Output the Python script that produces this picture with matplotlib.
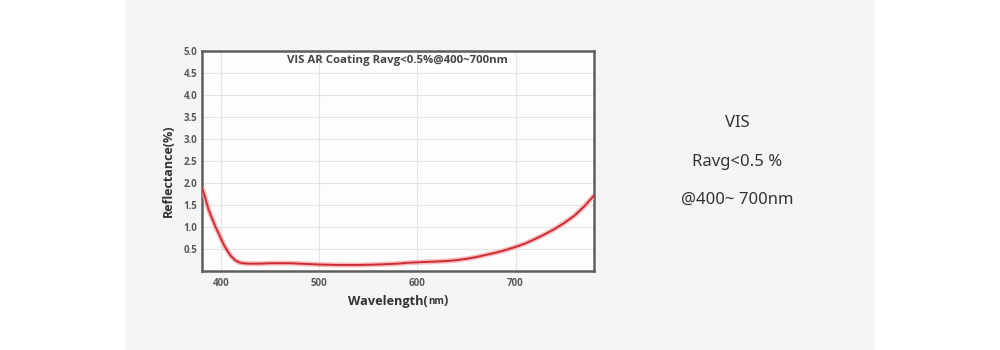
import matplotlib
matplotlib.use("Agg")
import matplotlib.pyplot as plt
from matplotlib.patches import Rectangle
from matplotlib.offsetbox import TextArea, HPacker, AnnotationBbox

wavelength = [380, 383, 387, 390, 394, 397, 400, 403, 407, 410, 414, 418, 422, 427, 432,
              440, 450, 460, 470, 480, 490, 500, 510, 520, 530, 540, 550, 560, 570, 580, 590,
              600, 610, 620, 630, 640, 650, 660, 670, 680, 690, 700, 710, 720, 730, 740,
              750, 760, 770, 780]
reflectance = [1.9, 1.7, 1.39, 1.22, 1.0, 0.86, 0.71, 0.57, 0.42, 0.33, 0.24, 0.19, 0.17, 0.16, 0.16,
               0.16, 0.17, 0.17, 0.17, 0.16, 0.15, 0.14, 0.135, 0.13, 0.13, 0.13, 0.135, 0.14, 0.15, 0.16, 0.18,
               0.19, 0.2, 0.21, 0.22, 0.24, 0.27, 0.31, 0.36, 0.41, 0.47, 0.54, 0.62, 0.72, 0.83, 0.95,
               1.09, 1.25, 1.46, 1.71]
x_ticks = [400, 500, 600, 700]
y_ticks = [0.5, 1.0, 1.5, 2.0, 2.5, 3.0, 3.5, 4.0, 4.5, 5.0]
chart_title = "VIS AR Coating Ravg<0.5%@400~700nm"
x_label_main = "Wavelength("
x_label_unit = "nm"
y_label = "Reflectance(%)"
side_lines = ["VIS", "Ravg<0.5 %", "@400~ 700nm"]

W, H = 1000, 350
fig = plt.figure(figsize=(10, 3.5), dpi=100)
fig.patch.set_facecolor("white")
fig.patches.append(Rectangle((0.125, 0), 0.75, 1, transform=fig.transFigure,
                             facecolor="#f5f5f7", edgecolor="none", zorder=-10))

ax = fig.add_axes([0.2017, 0.2266, 0.3923, 0.6286])
ax.set_zorder(1)
ax.set_facecolor("#fdfdfd")
ax.plot(wavelength, reflectance, color="#f2a3a6", linewidth=3.6, alpha=0.7, zorder=3,
        solid_capstyle="butt")
ax.plot(wavelength, reflectance, color="#cf2c33", linewidth=1.4, zorder=4,
        solid_capstyle="butt")
ax.set_xlim(380, 780)
ax.set_ylim(0, 5)
ax.set_xticks(x_ticks)
ax.set_yticks(y_ticks)
ax.set_xticklabels([str(t) for t in x_ticks])
ax.set_yticklabels([f"{t:.1f}" for t in y_ticks])
ax.grid(True, color="#e4e4e4", linewidth=0.8)
ax.set_axisbelow(True)
for s in ax.spines.values():
    s.set_color("#5f5f5f")
    s.set_linewidth(1.8)
ax.tick_params(axis="both", length=0, labelsize=7, labelcolor="#5a5a5a")
ax.tick_params(axis="x", pad=5)
ax.tick_params(axis="y", pad=3)
for lab in ax.get_xticklabels() + ax.get_yticklabels():
    lab.set_fontweight("bold")
    lab.set_family("Open Sans")
ax.text(0.5, 1 - (60.7 - 50.7) / 220, chart_title, transform=ax.transAxes, ha="center",
        va="center", fontsize=8.2, color="#444444", fontweight="bold", family="Open Sans")

fig.text(168 / W, 1 - 171 / H, y_label, rotation=90, ha="center", va="center",
         fontsize=9, fontweight="bold", color="#333333", family="Open Sans")

parts = HPacker(children=[
    TextArea(x_label_main, textprops=dict(fontsize=9.2, fontweight="bold", color="#333333", family="Open Sans")),
    TextArea(x_label_unit, textprops=dict(fontsize=7, fontweight="bold", color="#333333", family="Open Sans")),
    TextArea(")", textprops=dict(fontsize=9.2, fontweight="bold", color="#333333", family="Open Sans")),
], align="baseline", pad=0, sep=0)
ab = AnnotationBbox(parts, (398 / W, 1 - 301 / H), xycoords="figure fraction",
                    frameon=False, box_alignment=(0.5, 0.5), pad=0)
fig.add_artist(ab)

ys = [123, 162, 200]
for txt, y in zip(side_lines, ys):
    fig.text(0.737, 1 - y / H, txt, ha="center", va="center", fontsize=12,
             color="#333333", family="Noto Sans")

fig.savefig("out.png", dpi=100, facecolor=fig.get_facecolor())
